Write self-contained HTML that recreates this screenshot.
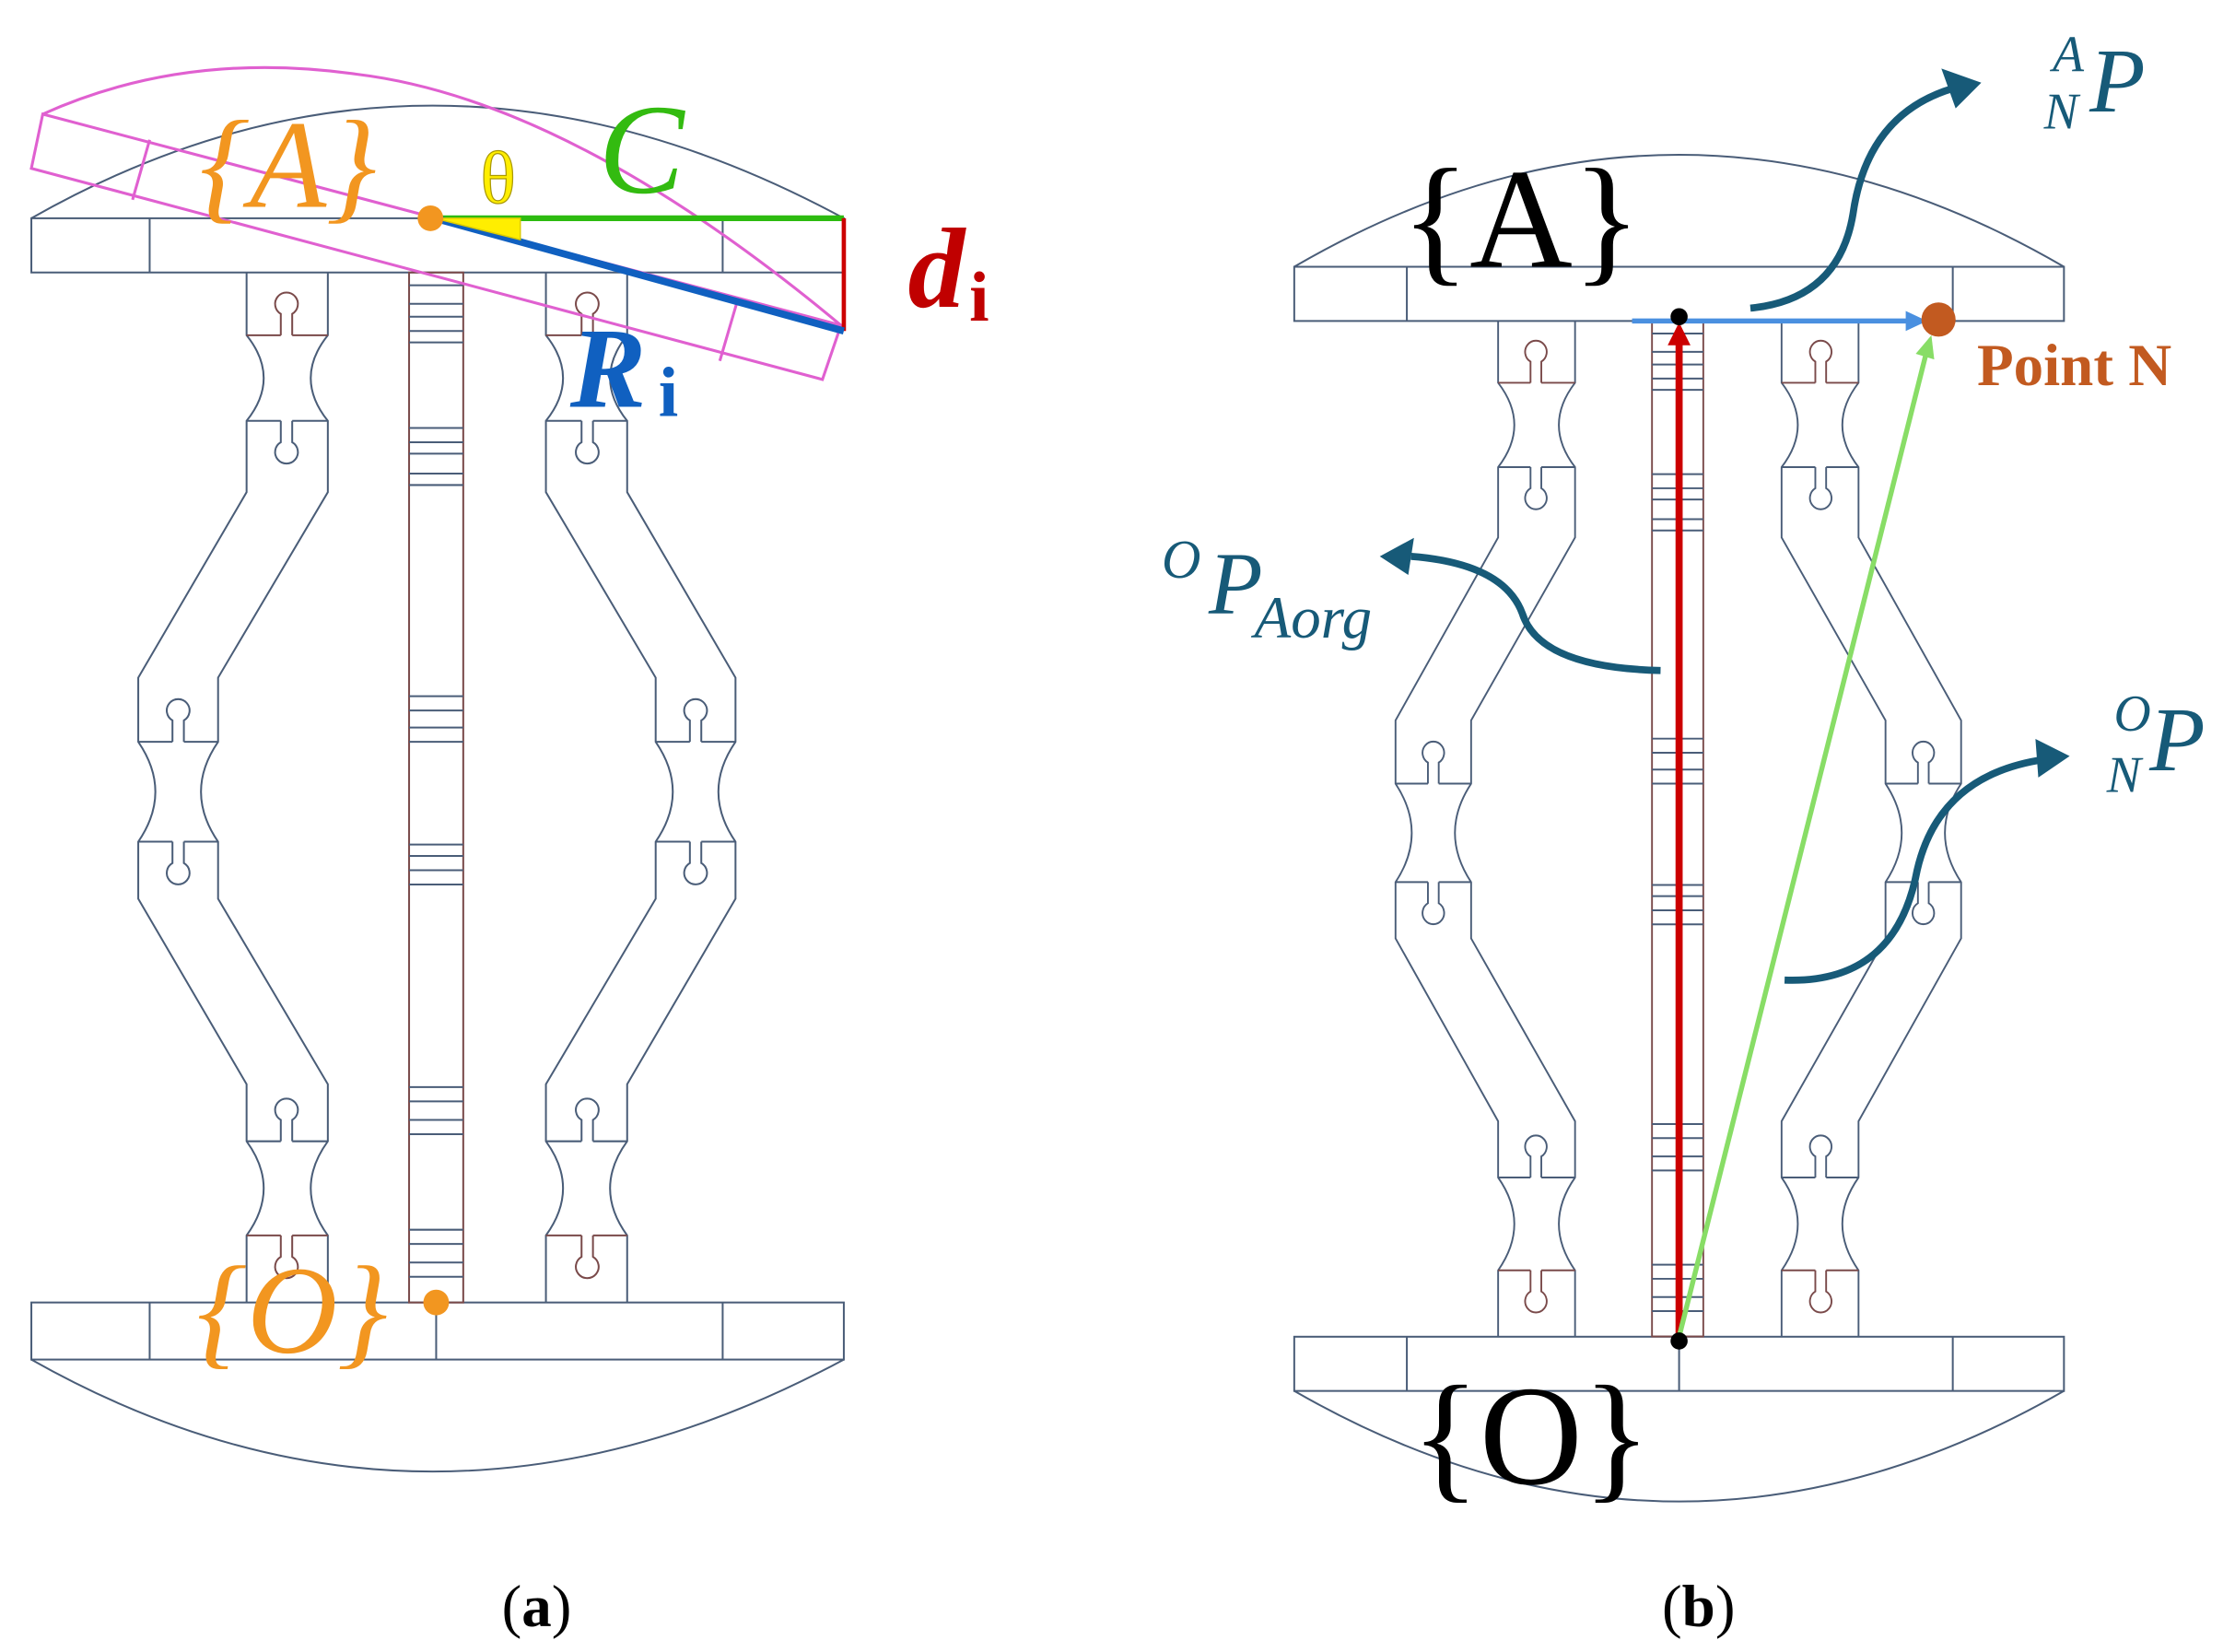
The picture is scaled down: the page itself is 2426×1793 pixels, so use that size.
<!DOCTYPE html>
<html><head><meta charset="utf-8"><style>
html,body{margin:0;padding:0;background:#fff;}
svg{display:block;}
</style></head><body>
<svg width="2426" height="1793" viewBox="0 0 1568 1158" preserveAspectRatio="none" xmlns="http://www.w3.org/2000/svg">
<defs>
<g id="leg" fill="none" stroke="#4a5d78" stroke-width="1.3">
  <path d="M173,191 V235 Q197,265 173,295 V345 L97,475 V520 Q121,555 97,590 V630 L173,760 V800 Q197,833 173,866 V913"/>
  <path d="M230,191 V235 Q206,265 230,295 V345 L153,475 V520 Q129,555 153,590 V630 L230,760 V800 Q206,833 230,866 V913"/>
  <path d="M173,235 H197 M205,235 H230 M197,235 V220 A8,8 0 1 1 205,220 V235" stroke="#7a4a4a"/>
  <path d="M173,295 H197 M205,295 H230 M197,295 V310 A8,8 0 1 0 205,310 V295"/>
  <path d="M97,520 H121 M129,520 H153 M121,520 V505 A8,8 0 1 1 129,505 V520"/>
  <path d="M97,590 H121 M129,590 H153 M121,590 V605 A8,8 0 1 0 129,605 V590"/>
  <path d="M173,800 H197 M205,800 H230 M197,800 V785 A8,8 0 1 1 205,785 V800"/>
  <path d="M173,866 H197 M205,866 H230 M197,866 V881 A8,8 0 1 0 205,881 V866" stroke="#7a4a4a"/>
</g>
<g id="mech">
  <use href="#leg"/>
  <use href="#leg" transform="translate(613,0) scale(-1,1)"/>
  <g fill="none" stroke="#4a5d78" stroke-width="1.3">
    <rect x="287" y="191" width="38" height="722" stroke="#7a4a4a"/>
    <path d="M287,200H325M287,213H325M287,222H325M287,232H325M287,240H325
             M287,300H325M287,310H325M287,318H325M287,332H325M287,340H325
             M287,488H325M287,498H325M287,510H325M287,520H325
             M287,592H325M287,600H325M287,610H325M287,620H325
             M287,762H325M287,772H325M287,785H325M287,795H325
             M287,862H325M287,872H325M287,885H325M287,895H325"/>
  </g>
</g>
</defs>

<!-- (a) -->
<g fill="none" stroke="#4a5d78" stroke-width="1.3">
  <path d="M22,153 Q300,-5 592,153"/>
  <rect x="22" y="153" width="570" height="38"/>
  <path d="M105,153V191M507,153V191"/>
  <rect x="22" y="913" width="570" height="40"/>
  <path d="M105,913V953M507,913V953M306,913V953"/>
  <path d="M22,953 Q300,1110 592,953"/>
</g>
<use href="#mech"/>
<g fill="none" stroke="#e060d0" stroke-width="2">
  <path d="M30,80 L590,228 L577,266 L22,118 Z"/>
  <path d="M105,98 L93,140 M517,212 L505,253"/>
  <path d="M30,80 Q130,35 250,52 Q400,70 590,228"/>
</g>
<line x1="305" y1="153" x2="592" y2="153" stroke="#2dbb10" stroke-width="4"/>
<line x1="592" y1="153" x2="592" y2="232" stroke="#cc0000" stroke-width="3"/>
<line x1="305" y1="153" x2="592" y2="232" stroke="#1060c0" stroke-width="5"/>
<path d="M305,153 L365,153 L365,168 Z" fill="#ffee00" stroke="#ddcc00"/>
<circle cx="302" cy="153" r="9" fill="#f29620"/>
<circle cx="306" cy="913" r="9" fill="#f29620"/>
<text x="140" y="145" font-family="Liberation Serif,serif" font-style="italic" font-size="88" fill="#f29620">{A}</text>
<text x="138" y="948" font-family="Liberation Serif,serif" font-style="italic" font-size="88" fill="#f29620">{O}</text>
<text x="337" y="142" font-family="Liberation Serif,serif" font-size="52" fill="#ffee00" stroke="#aa9900" stroke-width="0.8">θ</text>
<text x="420" y="135" font-family="Liberation Serif,serif" font-style="italic" font-size="90" fill="#33bb10">C</text>
<text x="637" y="215" font-family="Liberation Serif,serif" font-style="italic" font-weight="bold" font-size="80" fill="#c00000">d</text>
<text x="680" y="225" font-family="Liberation Serif,serif" font-weight="bold" font-size="50" fill="#c00000">i</text>
<text x="400" y="285" font-family="Liberation Serif,serif" font-style="italic" font-weight="bold" font-size="80" fill="#1060c0">R</text>
<text x="462" y="292" font-family="Liberation Serif,serif" font-weight="bold" font-size="50" fill="#1060c0">i</text>

<!-- (b) -->
<g fill="none" stroke="#4a5d78" stroke-width="1.3">
  <path d="M908,187 Q1178,30 1448,187"/>
  <rect x="908" y="187" width="540" height="38"/>
  <path d="M987,187V225M1370,187V225"/>
  <rect x="908" y="937" width="540" height="38"/>
  <path d="M987,937V975M1370,937V975M1178,937V975"/>
  <path d="M908,975 Q1178,1130 1448,975"/>
</g>
<use href="#mech" transform="matrix(0.947,0,0,0.986,887.2,36.6)"/>
<line x1="1178" y1="937" x2="1178" y2="240" stroke="#cc0000" stroke-width="5"/>
<path d="M1170,242 L1178,226 L1186,242 Z" fill="#cc0000"/>
<line x1="1178" y1="937" x2="1352" y2="245" stroke="#88dd66" stroke-width="3.5"/>
<path d="M1344,248 L1355,235 L1357,252 Z" fill="#88dd66"/>
<line x1="1145" y1="225" x2="1340" y2="225" stroke="#4a90e0" stroke-width="3.5"/>
<path d="M1337,218 L1352,225 L1337,232 Z" fill="#4a90e0"/>
<circle cx="1360" cy="224" r="12" fill="#c25a20"/>
<circle cx="1178" cy="222" r="6" fill="#000"/>
<circle cx="1178" cy="940" r="6" fill="#000"/>
<g fill="none" stroke="#175a78" stroke-width="5">
  <path d="M1228,216 Q1290,210 1300,150 Q1310,80 1370,62"/>
  <path d="M1165,470 Q1080,468 1068,430 Q1055,395 990,390"/>
  <path d="M1252,687 Q1330,690 1345,610 Q1360,545 1430,533"/>
</g>
<g fill="#175a78">
  <path d="M1390,58 L1362,48 L1372,76 Z"/>
  <path d="M968,390 L992,377 L988,403 Z"/>
  <path d="M1452,530 L1428,518 L1430,545 Z"/>
</g>
<text x="983" y="187" font-family="Liberation Serif,serif" font-size="100" fill="#000">{A}</text>
<text x="990" y="1040" font-family="Liberation Serif,serif" font-size="100" fill="#000">{O}</text>
<text x="1387" y="270" font-family="Liberation Serif,serif" font-weight="bold" font-size="42" fill="#c25a20">Point N</text>
<g font-family="Liberation Serif,serif" font-style="italic" fill="#175a78">
  <text x="1440" y="50" font-size="36">A</text>
  <text x="1434" y="90" font-size="36">N</text>
  <text x="1466" y="78" font-size="64">P</text>
  <text x="815" y="405" font-size="38">O</text>
  <text x="848" y="430" font-size="62">P</text>
  <text x="880" y="447" font-size="42">Aorg</text>
  <text x="1483" y="512" font-size="36">O</text>
  <text x="1478" y="555" font-size="36">N</text>
  <text x="1508" y="540" font-size="64">P</text>
</g>

<text x="352" y="1140" font-family="Liberation Serif,serif" font-size="42" fill="#000">(<tspan font-weight="bold">a</tspan>)</text>
<text x="1166" y="1140" font-family="Liberation Serif,serif" font-size="42" fill="#000">(<tspan font-weight="bold">b</tspan>)</text>
</svg>
</body></html>
